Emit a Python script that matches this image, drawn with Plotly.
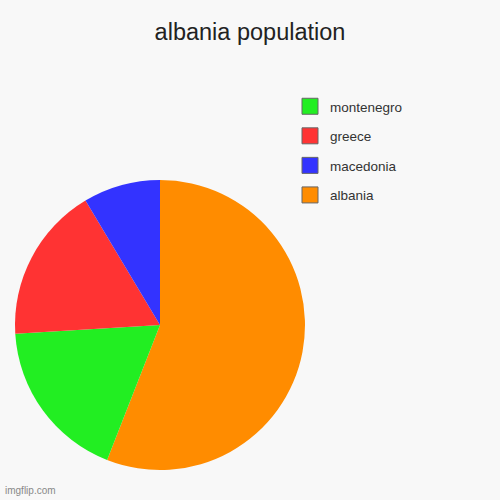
import plotly.graph_objects as go

# slices, clockwise from 12 o'clock
labels = ["albania", "montenegro", "greece", "macedonia"]
values = [56.0, 18.1, 17.4, 8.6]
colors = ["#ff8c00", "#22ee22", "#ff3333", "#3333ff"]

# legend order as shown in the picture (top to bottom)
legend_labels = ["montenegro", "greece", "macedonia", "albania"]
legend_colors = ["#22ee22", "#ff3333", "#3333ff", "#ff8c00"]

fig = go.Figure()

fig.add_trace(go.Pie(
    labels=labels,
    values=values,
    marker=dict(colors=colors, line=dict(width=0)),
    sort=False,
    direction="clockwise",
    rotation=0,
    textinfo="none",
    hoverinfo="label+value",
    showlegend=False,
    domain=dict(x=[0.03, 0.61], y=[0.06, 0.64]),
))

# dummy traces so the legend can keep its own order
for name, col in zip(legend_labels, legend_colors):
    fig.add_trace(go.Scatter(
        x=[None], y=[None],
        mode="markers",
        name=name,
        legendgroup=name,
        marker=dict(symbol="square", size=16, color=col,
                    line=dict(color="#666666", width=1)),
    ))

fig.update_layout(
    width=500, height=500,
    paper_bgcolor="#f8f8f8",
    plot_bgcolor="#f8f8f8",
    margin=dict(l=0, r=0, t=0, b=0),
    font=dict(family="Liberation Sans, Arial, sans-serif", color="#333333"),
    title=dict(text="albania population", x=0.5, xanchor="center",
               y=0.937, yanchor="middle",
               font=dict(size=23.5, color="#222222")),
    xaxis=dict(visible=False),
    yaxis=dict(visible=False),
    legend=dict(x=0.58, y=0.818, xanchor="left", yanchor="top",
                traceorder="grouped", tracegroupgap=9,
                itemsizing="trace",
                font=dict(size=13.5, color="#333333"),
                bgcolor="rgba(0,0,0,0)"),
    annotations=[dict(text="imgflip.com", x=0.006, y=0.02, xref="paper",
                      yref="paper", xanchor="left", yanchor="middle",
                      showarrow=False,
                      font=dict(size=10, color="#888888"))],
)

# drop the page's default body margin so the figure fills the window
fig.write_html("out.html", config={"displayModeBar": False},
               post_script="document.body.style.margin='0';")
